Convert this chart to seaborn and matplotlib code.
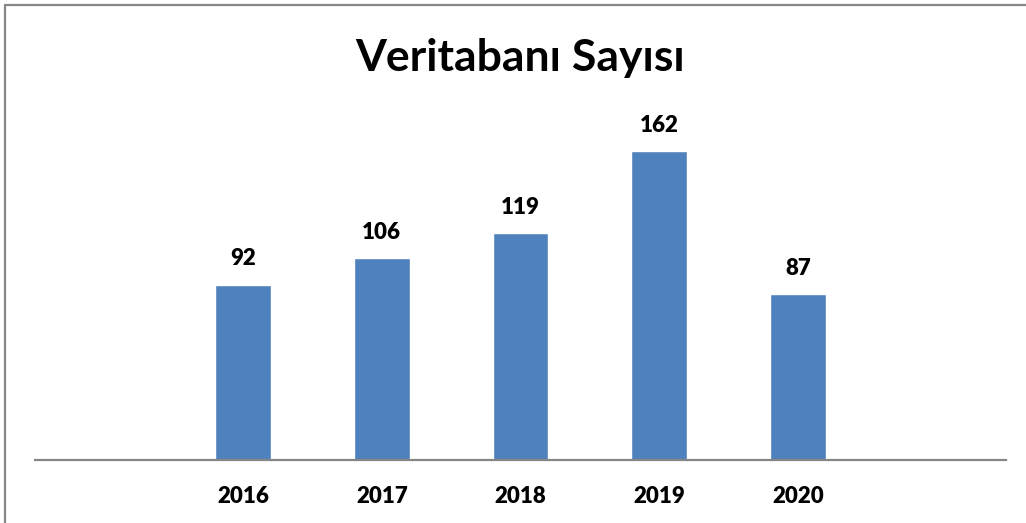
import matplotlib
matplotlib.use("Agg")
import matplotlib.pyplot as plt
import seaborn as sns
import pandas as pd
from matplotlib.lines import Line2D

years = ["2016", "2017", "2018", "2019", "2020"]
counts = [92, 106, 119, 162, 87]
slots = [" ", "2016", "2017", "2018", "2019", "2020", "  "]
title = "Veritabanı Sayısı"

sns.set_theme(style="white")
plt.rcParams["font.family"] = ["Lato", "DejaVu Sans"]

W, H = 1026, 523
fig = plt.figure(figsize=(W / 100, H / 100), dpi=100)
ax = fig.add_axes([35 / W, (H - 460) / H, 971 / W, 343.3 / H])

df = pd.DataFrame({"year": years, "count": counts})
sns.barplot(data=df, x="year", y="count", order=slots, color="#4F81BD",
            saturation=1, width=0.4, ax=ax)

ax.set_ylim(0, 180)
ax.set_xlim(-0.5, 6.5)
for c in ax.containers:
    ax.bar_label(c, labels=[str(v) for v in counts], padding=11,
                 fontsize=16, fontweight="heavy", color="black")

ax.set_xlabel("")
ax.set_ylabel("")
ax.set_yticks([])
ax.set_xticks(range(len(slots)))
ax.set_xticklabels([s.strip() for s in slots], fontsize=16, fontweight="heavy", color="black")
ax.tick_params(axis="x", length=0, pad=19)
for s in ["top", "right", "left"]:
    ax.spines[s].set_visible(False)
ax.spines["bottom"].set_color("#868686")
ax.spines["bottom"].set_linewidth(1.6)
ax.patch.set_alpha(0)

fig.text(520 / W, 1 - 58 / H, title, ha="center", va="center",
         fontsize=32, fontweight="bold", color="black")

# chart border (left and top visible)
fig.add_artist(Line2D([5 / W, 5 / W], [0, 1 - 5 / H], transform=fig.transFigure,
                      color="#868686", lw=1.6))
fig.add_artist(Line2D([5 / W, 1.0], [1 - 5 / H, 1 - 5 / H], transform=fig.transFigure,
                      color="#868686", lw=1.6))

fig.savefig("out.png", dpi=100)
